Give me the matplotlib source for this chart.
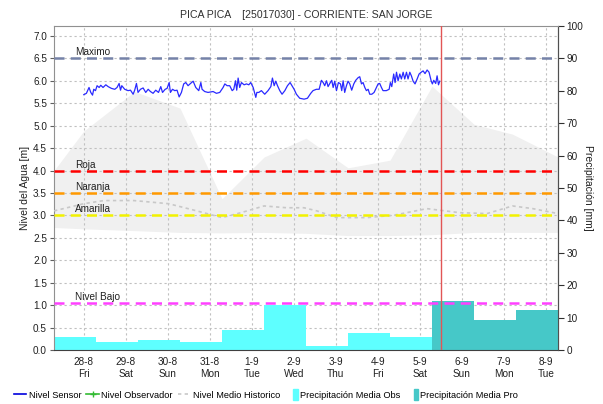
import numpy as np
import matplotlib.pyplot as plt
from matplotlib.lines import Line2D
from matplotlib.patches import Patch, Rectangle
from matplotlib.legend_handler import HandlerPatch

plt.rcParams['font.family'] = ['Liberation Sans', 'DejaVu Sans']

# x axis is in hours counted from the 28-8 tick
day_labels = ['28-8\nFri', '29-8\nSat', '30-8\nSun', '31-8\nMon', '1-9\nTue', '2-9\nWed',
              '3-9\nThu', '4-9\nFri', '5-9\nSat', '6-9\nSun', '7-9\nMon', '8-9\nTue']

# daily precipitation [mm]: observed days, then forecast days
precip_obs = [4.0, 2.5, 3.1, 2.5, 6.3, 13.9, 1.2, 5.2, 4.1]
precip_pro = [15.1, 9.3, 12.3]

# alert levels [m]
threshold_names = ['Maximo', 'Roja', 'Naranja', 'Amarilla', 'Nivel Bajo']
threshold_levels = [6.5, 4.0, 3.5, 3.0, 1.04]

# historic envelope [m]
band_t = [-17, 0, 29, 55, 79, 103, 127, 151, 175, 199, 223, 245, 271]
band_high = [4.0, 4.88, 5.76, 5.39, 3.37, 4.3, 4.72, 4.06, 4.23, 5.88, 5.03, 4.81, 4.30]
band_low = [2.73, 2.70, 2.66, 2.62, 2.61, 2.62, 2.60, 2.55, 2.55, 2.57, 2.62, 2.62, 2.62]

# historic mean level [m]
hist_t = [-17, 0, 11.5, 28.6, 48.5, 64.6, 79, 89.8, 103, 115.9, 125.8, 133.2, 144.5,
          161.8, 176.6, 196.1, 214.8, 230.4, 245, 256.6, 271]
hist_lvl = [3.10, 3.26, 3.33, 3.33, 3.26, 3.10, 2.95, 3.06, 3.21, 3.17, 3.17, 3.10, 2.95,
            2.95, 3.00, 3.15, 3.06, 3.04, 3.21, 3.15, 3.04]

# sensor level [m]
sensor_t = [0.0, 1.5, 3.0, 4.0, 5.0, 5.7, 6.7, 7.6, 8.8, 9.7,
            11.0, 12.6, 13.9, 15.8, 17.7, 19.0, 20.2, 21.0, 21.7, 23.4,
            25.3, 26.7, 28.2, 29.1, 30.1, 31.0, 32.4, 33.9, 35.4, 36.8,
            38.1, 39.6, 41.1, 42.7, 44.0, 45.0, 46.5, 47.6, 48.8, 49.5,
            50.7, 52.0, 53.3, 54.5, 55.8, 57.1, 58.3, 59.6, 61.0, 62.5,
            64.0, 65.7, 66.9, 67.6, 69.1, 71.0, 73.9, 75.8, 77.7, 79.6,
            80.6, 81.9, 83.4, 84.8, 85.7, 86.7, 87.4, 88.2, 89.1, 90.1,
            91.6, 93.0, 94.3, 95.4, 96.8, 97.7, 98.3, 98.9, 100.0, 101.5,
            103.4, 105.3, 106.9, 107.8, 108.8, 109.7, 110.7, 112.0, 113.3, 114.9,
            116.4, 117.9, 119.0, 120.2, 121.5, 123.4, 125.9, 127.8, 129.7, 131.0,
            132.9, 134.5, 135.8, 136.8, 137.7, 138.7, 139.6, 140.6, 141.7, 142.5,
            143.4, 144.4, 145.5, 146.7, 147.4, 148.2, 149.1, 150.1, 151.0, 152.0,
            153.1, 154.3, 155.4, 156.8, 157.7, 158.7, 159.6, 160.6, 161.5, 162.5,
            163.4, 164.6, 165.9, 167.2, 168.2, 169.1, 170.1, 171.0, 172.9, 174.5,
            175.2, 176.0, 177.1, 177.9, 178.7, 179.6, 180.6, 181.5, 182.5, 183.4,
            184.4, 185.3, 186.3, 187.2, 188.2, 189.3, 190.5, 191.6, 192.8, 193.9,
            195.0, 196.2, 197.3, 198.5, 199.2, 200.0, 201.1, 201.9, 202.7, 203.4]
sensor_lvl = [5.69, 5.72, 5.85, 5.74, 5.68, 5.81, 5.78, 5.89, 5.85, 5.90,
              5.85, 5.91, 5.87, 5.83, 5.81, 5.85, 5.94, 5.79, 5.89, 5.81,
              5.78, 5.79, 5.70, 5.79, 5.94, 5.74, 5.81, 5.84, 5.74, 5.81,
              5.76, 5.72, 5.79, 5.74, 5.87, 5.74, 5.81, 5.83, 5.96, 5.74,
              5.81, 5.78, 5.79, 5.64, 5.74, 5.93, 5.96, 5.89, 5.94, 5.99,
              5.85, 5.78, 5.96, 5.81, 5.76, 5.74, 5.76, 5.72, 5.74, 5.85,
              5.93, 5.89, 5.89, 5.78, 5.81, 6.00, 5.79, 6.06, 5.85, 5.96,
              5.91, 5.93, 5.91, 5.96, 5.85, 5.72, 5.63, 5.74, 5.74, 5.78,
              5.70, 5.78, 5.87, 6.06, 5.89, 5.99, 5.89, 5.78, 5.70, 5.78,
              5.89, 5.96, 5.89, 5.81, 5.70, 5.61, 5.59, 5.61, 5.72, 5.78,
              5.81, 5.81, 6.01, 5.96, 5.89, 6.00, 5.87, 5.94, 6.01, 5.85,
              5.99, 5.78, 5.96, 5.93, 5.78, 6.00, 5.74, 5.89, 5.99, 5.93,
              5.79, 5.93, 6.01, 6.07, 6.09, 5.93, 5.96, 5.85, 5.78, 5.81,
              5.70, 5.70, 5.74, 5.85, 5.93, 5.94, 5.85, 5.78, 5.78, 5.81,
              5.96, 5.87, 6.15, 5.96, 6.19, 6.00, 6.15, 6.04, 6.19, 6.04,
              6.19, 6.04, 6.19, 6.11, 5.99, 5.93, 6.04, 6.15, 6.19, 6.22,
              6.16, 6.24, 6.19, 6.00, 5.93, 6.01, 5.94, 6.11, 5.91, 5.99]

now_t = 204          # current time marker [h]
day_start = -17      # rain day starts 17 h before the date tick
level_top = 7.22     # [m] at the top of the plot = 100 mm


def m_to_mm(v):
    return np.asarray(v) * 100.0 / level_top


def mm_to_m(v):
    return np.asarray(v) * level_top / 100.0


def narrow_box(legend, orig_handle, xdescent, ydescent, width, height, fontsize):
    # thin upright swatch at the right end of the handle slot
    w = 0.45 * fontsize
    return Rectangle((width - w - xdescent, -ydescent - 0.2 * height), w, 1.4 * height)


fig = plt.figure(figsize=(6.03, 4.04), dpi=100)
ax = fig.add_axes([0.0896, 0.1337, 0.8358, 0.8019])

grid_kw = dict(color='#c0c0c0', lw=0.8, ls=(0, (2, 2.5)))

# envelope and grid at the back
ax.fill_between(band_t, band_low, band_high, color='#f0f0f0', lw=0, zorder=0)
for lvl in np.arange(0.5, 7.01, 0.5):
    ax.axhline(lvl, zorder=1, **grid_kw)
for i in range(len(day_labels)):
    ax.axvline(24 * i, zorder=1, **grid_kw)

# precipitation bars, scaled to the right axis
n_obs = len(precip_obs)
obs_left = [day_start + 24 * i for i in range(n_obs)]
pro_left = [day_start + 24 * (n_obs + i) for i in range(len(precip_pro))]
ax.bar(obs_left, mm_to_m(precip_obs), width=24, align='edge', color='#5effff', lw=0, zorder=2)
ax.bar(pro_left, mm_to_m(precip_pro), width=24, align='edge', color='#46c8c8', lw=0, zorder=2)

# historic mean
ax.plot(hist_t, hist_lvl, color='#c8c8c8', lw=1.2, ls=(0, (2, 2)), zorder=3)

# alert levels
threshold_colors = ['#7582a8', '#ff0000', '#ff9900', '#f2f200', '#ff40ff']
for name, lvl, col in zip(threshold_names, threshold_levels, threshold_colors):
    ax.axhline(lvl, color=col, lw=1.8, ls=(0, (4, 2.5)), zorder=4)
    ax.text(-5, lvl + 0.02, name, fontsize=7.2, color='#202020', va='bottom', ha='left', zorder=5)

ax.plot(sensor_t, sensor_lvl, color='#2a2aff', lw=0.9, zorder=5)
ax.axvline(now_t, color='#e25555', lw=1.0, zorder=6)

ax.set_xlim(-17, 271)
ax.set_ylim(0, level_top)
ax.set_xticks([24 * i for i in range(len(day_labels))])
ax.set_xticklabels(day_labels, fontsize=7.2, color='#202020', linespacing=1.3)
ax.set_yticks(np.arange(0, 7.01, 0.5))
ax.set_yticklabels(['%.1f' % v for v in np.arange(0, 7.01, 0.5)], fontsize=7.2, color='#202020')
ax.tick_params(axis='x', length=0, pad=5)
ax.tick_params(axis='y', length=3, width=0.8, color='#606060', pad=2)
ax.set_ylabel('Nivel del Agua [m]', fontsize=7.5, color='#202020', labelpad=2)

for side in ['left', 'top']:
    ax.spines[side].set_color('#909090')
ax.spines['right'].set_color('#505050')
ax.spines['bottom'].set_color('#404040')
ax.spines['bottom'].set_linestyle((0, (1, 1)))

sec = ax.secondary_yaxis('right', functions=(m_to_mm, mm_to_m))
sec.set_yticks(np.arange(0, 101, 10))
sec.tick_params(length=4, width=0.8, color='#303030', labelsize=7.2, labelcolor='#202020', pad=2)
sec.spines['right'].set_color('#505050')
sec.set_ylabel('Precipitación [mm]', fontsize=7.5, color='#202020', rotation=270, labelpad=7)

ax.set_title('PICA PICA    [25017030] - CORRIENTE: SAN JORGE', fontsize=7.6,
             color='#303030', pad=6)

handles = [
    Line2D([], [], color='#0000dd', lw=1.2),
    Line2D([], [], color='#33bb33', lw=1.2, marker='+', markersize=4),
    Line2D([], [], color='#c8c8c8', lw=1.2, ls=(0, (2, 2))),
    Patch(color='#5effff'),
    Patch(color='#46c8c8'),
]
labels = ['Nivel Sensor', 'Nivel Observador', 'Nivel Medio Historico',
          'Precipitación Media Obs', 'Precipitación Media Pro']
fig.legend(handles, labels, loc='center', bbox_to_anchor=(0.441, 0.022), ncol=5,
           frameon=False, fontsize=6.7, handlelength=1.35, handletextpad=0.25,
           columnspacing=0.55, handleheight=1.0, borderpad=0.2,
           handler_map={Patch: HandlerPatch(patch_func=narrow_box)})

fig.savefig('out.png', dpi=100)
